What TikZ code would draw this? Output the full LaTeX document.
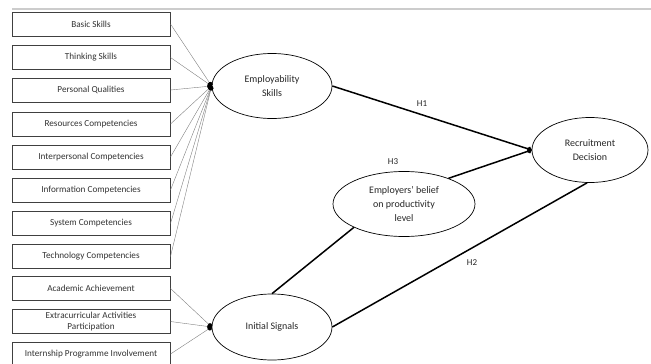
\documentclass[tikz,border=0pt]{standalone}
\usepackage{fontspec}
\setmainfont{Carlito}
\usetikzlibrary{arrows.meta, shapes.geometric}
\tikzset{
  itembox/.style={
    rectangle,
    draw=black!75,
    line width=1pt,
    align=center,
    minimum width=158pt,
    minimum height=24pt,
    inner sep=1pt,
    text=black!80,
    font=\fontsize{9.2}{10.5}\selectfont
  },
  construct/.style={
    ellipse,
    draw,
    line width=0.7pt,
    align=center,
    inner sep=0pt,
    text=black!85,
    font=\fontsize{10}{14}\selectfont
  },
  indicator/.style={-{Circle[length=4.5pt, black]}, draw=black!50, line width=0.4pt},
  hypo/.style={line width=1.5pt},
  hypoarrow/.style={-{Circle[length=5pt]}, line width=1.5pt},
  hlabel/.style={font=\fontsize{9}{10}\selectfont, text=black!85}
}

\begin{document}
\begin{tikzpicture}[x=1pt, y=-1pt]
\useasboundingbox (0,0) rectangle (651,364);
\draw[black!20, line width=1.2pt] (12,9) -- (651,9);

\node[itembox] (basic) at (91,24) {Basic Skills};
\node[itembox] (thinking) at (91,57.5) {Thinking Skills};
\node[itembox] (personal) at (91,90) {Personal Qualities};
\node[itembox] (resources) at (91,124) {Resources Competencies};
\node[itembox] (interpersonal) at (91,157) {Interpersonal Competencies};
\node[itembox] (information) at (91,190) {Information Competencies};
\node[itembox] (system) at (91,223.5) {System Competencies};
\node[itembox] (technology) at (91,256.5) {Technology Competencies};
\node[itembox] (academic) at (91,288.5) {Academic Achievement};
\node[itembox] (extra) at (91,321.5) {Extracurricular Activities\\Participation};
\node[itembox] (internship) at (91,354) {Internship Programme Involvement};

\node[construct, minimum width=120pt, minimum height=65pt] (employ) at (272,86) {Employability\\Skills};
\node[construct, minimum width=120pt, minimum height=66pt] (initial) at (272,327) {Initial Signals};
\node[construct, minimum width=142pt, minimum height=65pt] (belief) at (404,204) {Employers' belief\\on productivity\\level};
\node[construct, minimum width=116pt, minimum height=65pt] (recruit) at (590,150) {Recruitment\\Decision};

\draw[indicator] (basic.east) -- (employ.west);
\draw[indicator] (thinking.east) -- (employ.west);
\draw[indicator] (personal.east) -- (employ.west);
\draw[indicator] (resources.east) -- (employ.west);
\draw[indicator] (interpersonal.east) -- (employ.west);
\draw[indicator] (information.east) -- (employ.west);
\draw[indicator] (system.east) -- (employ.west);
\draw[indicator] (technology.east) -- (employ.west);
\draw[indicator] (academic.east) -- (initial.west);
\draw[indicator] (extra.east) -- (initial.west);
\draw[indicator] (internship.east) -- (initial.west);

\draw[hypoarrow] (employ.east) -- (recruit.west);
\draw[hypoarrow] (belief.30) -- (recruit.west);
\draw[hypo] (initial.north) -- (belief.205);
\draw[hypo] (initial.east) -- (recruit.265);

\node[hlabel] (h1) at (422,104) {H1};
\node[hlabel] (h3) at (393,162) {H3};
\node[hlabel] (h2) at (472,263) {H2};
\end{tikzpicture}
\end{document}
